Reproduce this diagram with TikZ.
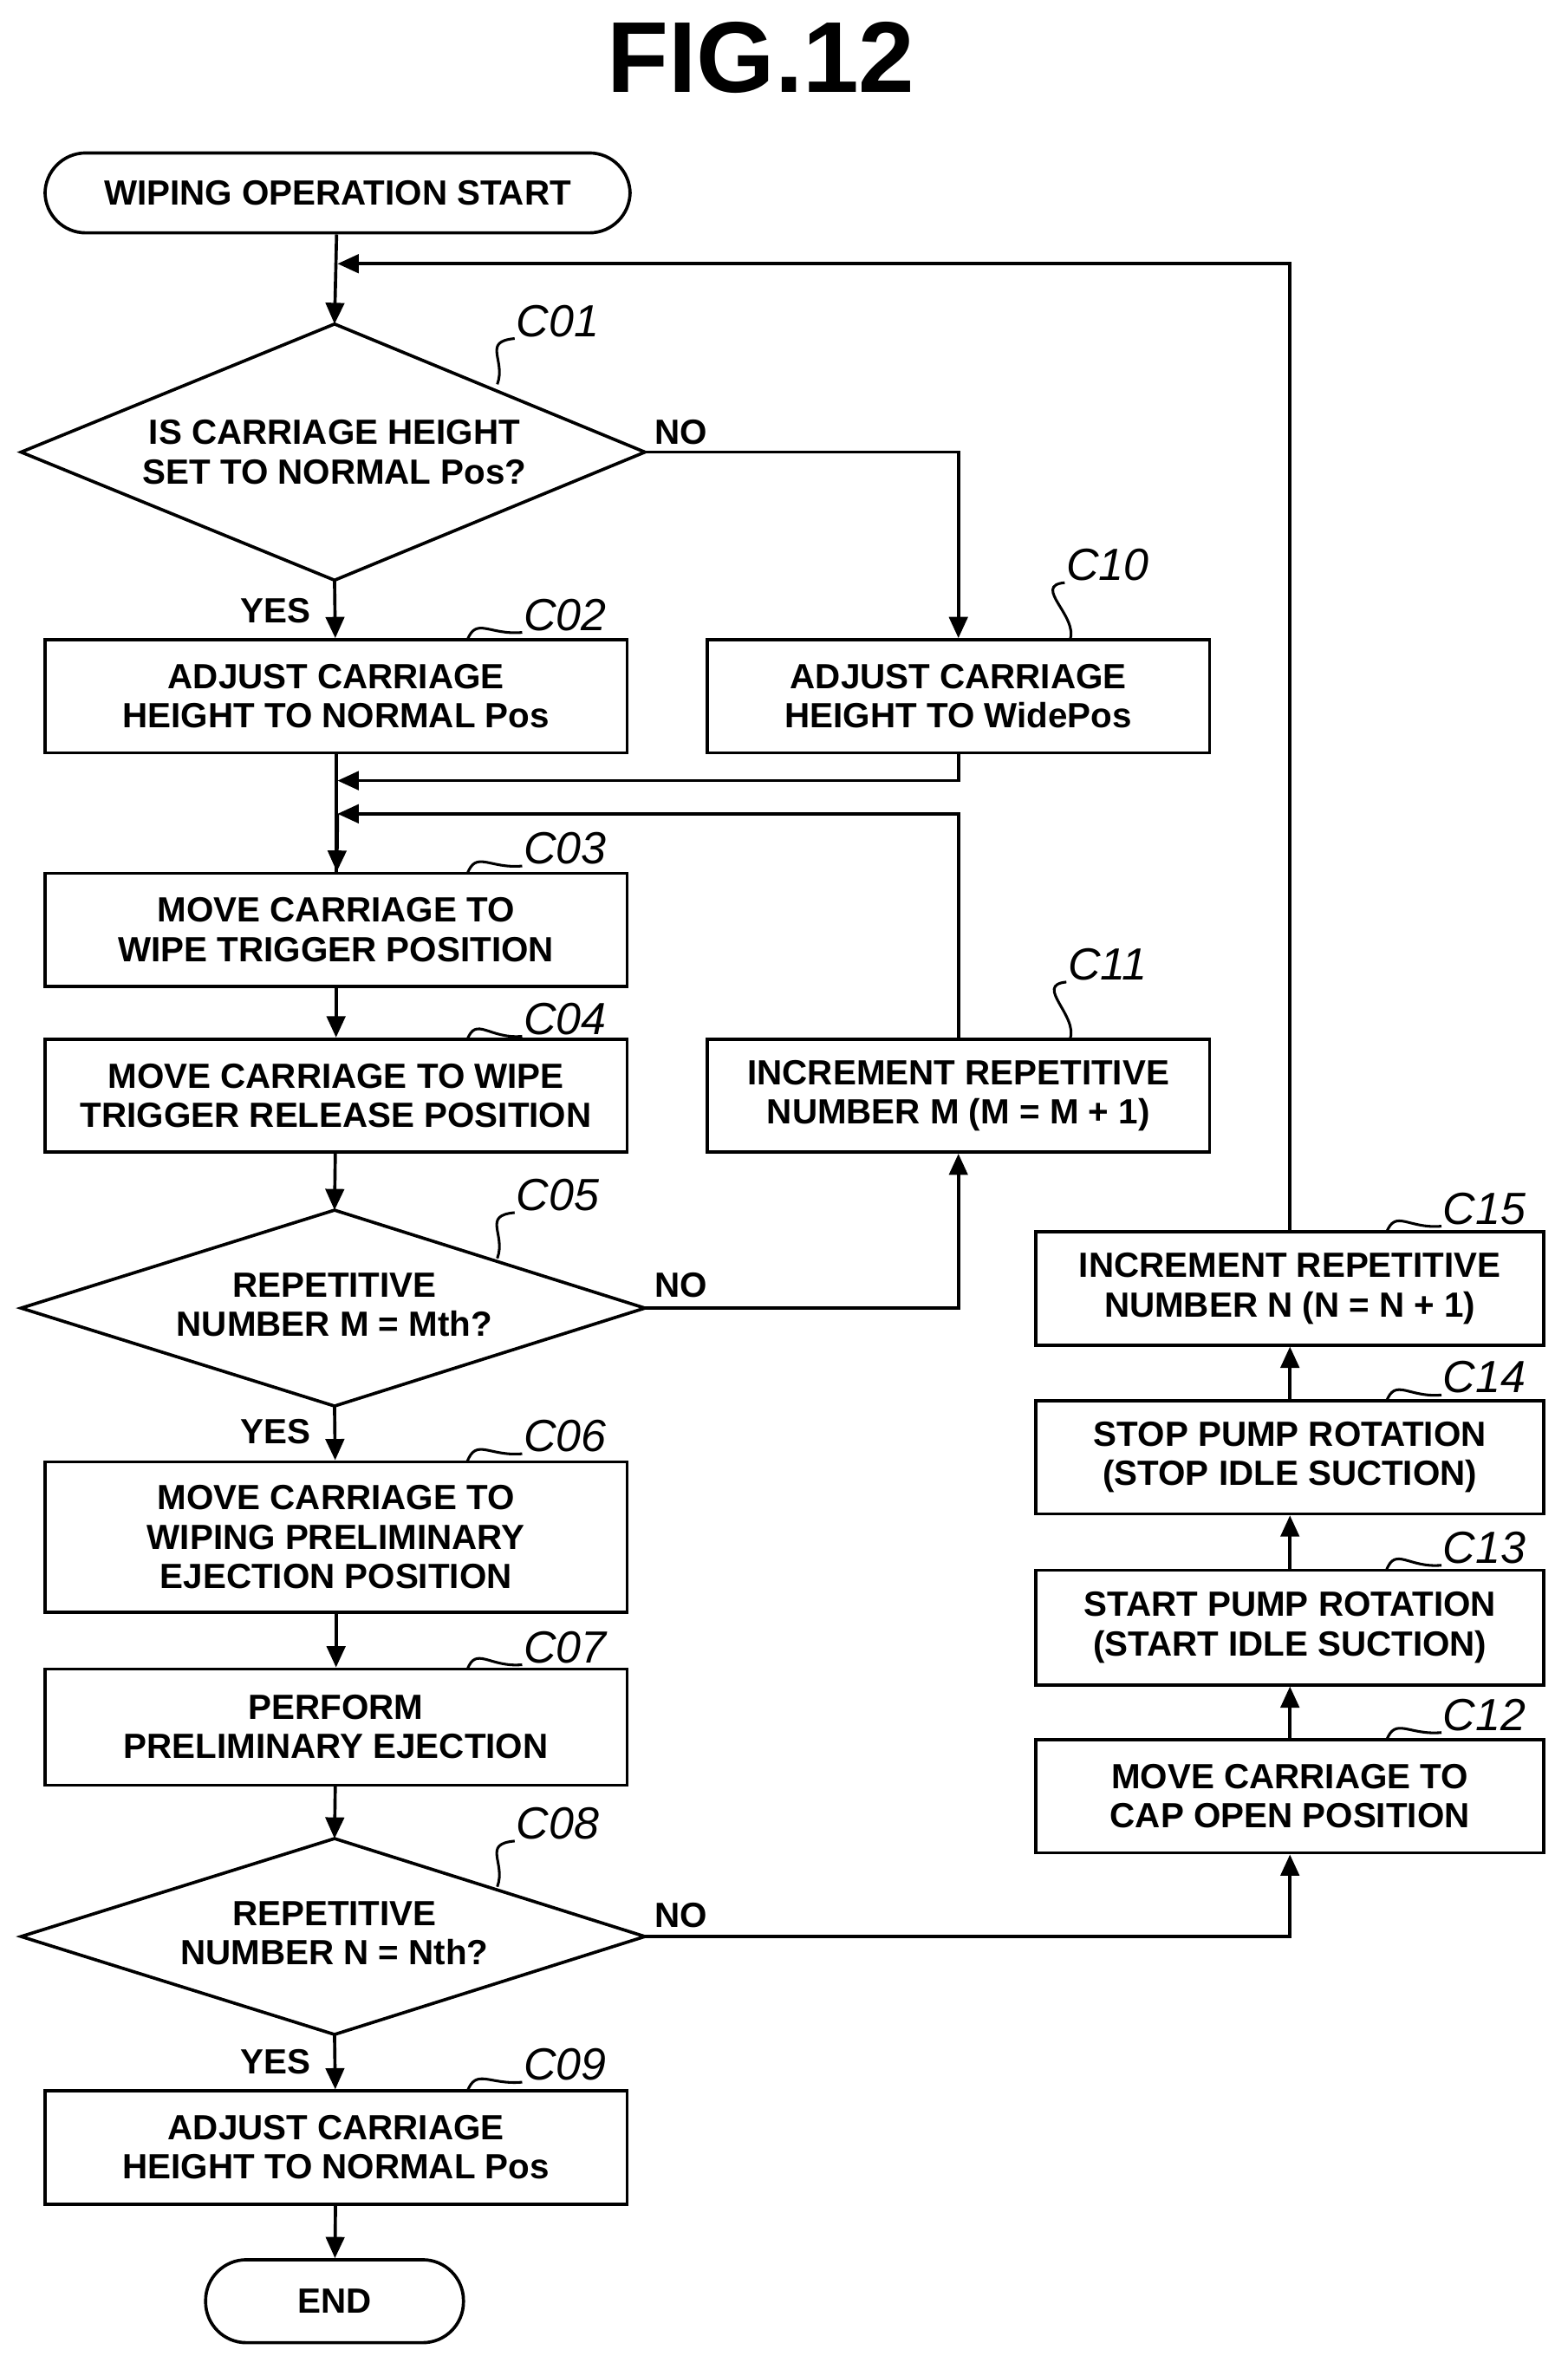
\documentclass[tikz,border=0pt]{standalone}
\usepackage{fontspec}
\setmainfont{Liberation Sans}
\usetikzlibrary{shapes.geometric,arrows.meta}
\begin{document}
\begin{tikzpicture}[x=0.01cm,y=-0.01cm,
  line width=0.6pt,
  every node/.style={font=\bfseries\fontsize{6.6}{7.4}\selectfont, align=center, inner sep=0pt},
  box/.style={draw, rectangle},
  term/.style={draw, rounded corners=0.27cm},
  lab/.style={font=\itshape\fontsize{8.5}{9}\selectfont},
  arr/.style={-{Triangle[length=4pt,width=3.5pt]}},
  lead/.style={line width=0.5pt}]
\useasboundingbox (0,0) rectangle (1040,1572);
\node[font=\bfseries\fontsize{19}{20}\selectfont] (title) at (505,38) {FIG.12};
% main column
\node[term, minimum width=3.88cm, minimum height=0.53cm] (start) at (224,128) {WIPING OPERATION START};
\draw (14,300) -- (222,215) -- (428,300) -- (222,385) -- cycle;
\node (c01) at (222,300) {IS CARRIAGE HEIGHT\\SET TO NORMAL Pos?};
\coordinate (c01t) at (222,215); \coordinate (c01b) at (222,385); \coordinate (c01r) at (428,300);
\node[box, minimum width=3.86cm, minimum height=0.75cm] (c02) at (223,462) {ADJUST CARRIAGE\\HEIGHT TO NORMAL Pos};
\node[box, minimum width=3.33cm, minimum height=0.75cm] (c10) at (636,462) {ADJUST CARRIAGE\\HEIGHT TO WidePos};
\node[box, minimum width=3.86cm, minimum height=0.75cm] (c03) at (223,617) {MOVE CARRIAGE TO\\WIPE TRIGGER POSITION};
\node[box, minimum width=3.86cm, minimum height=0.75cm] (c04) at (223,727) {MOVE CARRIAGE TO WIPE\\TRIGGER RELEASE POSITION};
\node[box, minimum width=3.33cm, minimum height=0.75cm] (c11) at (636,727) {INCREMENT REPETITIVE\\NUMBER M (M = M + 1)};
\draw (14,868) -- (222,803) -- (428,868) -- (222,933) -- cycle;
\node (c05) at (222,866) {REPETITIVE\\NUMBER M = Mth?};
\coordinate (c05t) at (222,803); \coordinate (c05b) at (222,933); \coordinate (c05r) at (428,868);
\node[box, minimum width=3.86cm, minimum height=1.0cm] (c06) at (223,1020) {MOVE CARRIAGE TO\\WIPING PRELIMINARY\\EJECTION POSITION};
\node[box, minimum width=3.86cm, minimum height=0.77cm] (c07) at (223,1146) {PERFORM\\PRELIMINARY EJECTION};
\draw (14,1285) -- (222,1220) -- (428,1285) -- (222,1350) -- cycle;
\node (c08) at (222,1283) {REPETITIVE\\NUMBER N = Nth?};
\coordinate (c08t) at (222,1220); \coordinate (c08b) at (222,1350); \coordinate (c08r) at (428,1285);
\node[box, minimum width=3.86cm, minimum height=0.75cm] (c09) at (223,1425) {ADJUST CARRIAGE\\HEIGHT TO NORMAL Pos};
\node[term, minimum width=1.71cm, minimum height=0.55cm] (end) at (222,1527) {END};
% right column
\node[box, minimum width=3.37cm, minimum height=0.75cm] (c12) at (856,1192) {MOVE CARRIAGE TO\\CAP OPEN POSITION};
\node[box, minimum width=3.37cm, minimum height=0.76cm] (c13) at (856,1080) {START PUMP ROTATION\\(START IDLE SUCTION)};
\node[box, minimum width=3.37cm, minimum height=0.75cm] (c14) at (856,967) {STOP PUMP ROTATION\\(STOP IDLE SUCTION)};
\node[box, minimum width=3.37cm, minimum height=0.75cm] (c15) at (856,855) {INCREMENT REPETITIVE\\NUMBER N (N = N + 1)};
% connectors
\coordinate (j0) at (224,175); \coordinate (j1) at (224,518); \coordinate (j2) at (224,540);
\draw[arr] (start) -- (c01t);
\draw[arr] (c01b) -- (c02);
\draw (c02) -- (c03);
\draw[arr] (j2) -- (c03);
\draw[arr] (c03) -- (c04);
\draw[arr] (c04) -- (c05t);
\draw[arr] (c05b) -- (c06);
\draw[arr] (c06) -- (c07);
\draw[arr] (c07) -- (c08t);
\draw[arr] (c08b) -- (c09);
\draw[arr] (c09) -- (end);
\draw[arr] (c01r) -| (c10.north);
\draw[arr] (c10.south) |- (j1);
\draw[arr] (c11.north) |- (j2);
\draw[arr] (c05r) -| (c11.south);
\draw[arr] (c08r) -| (c12.south);
\draw[arr] (c12) -- (c13);
\draw[arr] (c13) -- (c14);
\draw[arr] (c14) -- (c15);
\draw[arr] (c15.north) |- (j0);
% YES / NO
\node (y1) at (183,405) {YES}; \node (n1) at (452,287) {NO};
\node (y5) at (183,950) {YES}; \node (n5) at (452,853) {NO};
\node (y8) at (183,1368) {YES}; \node (n8) at (452,1271) {NO};
% step labels with leaders
\foreach \n/\lx/\ly/\tx/\ty in {C01/370/213/330/255, C02/375/408/310/425, C03/375/563/310/580,
  C04/375/676/310/690, C05/370/793/330/835, C06/375/953/310/970, C07/375/1093/310/1108,
  C08/370/1210/330/1252, C09/375/1370/310/1388, C10/735/375/710/425, C11/735/640/710/690,
  C15/985/802/920/818, C14/985/914/920/930, C13/985/1027/920/1042, C12/985/1138/920/1155}{
  \node[lab] (l\n) at (\lx,\ly) {\n};
  \coordinate (t\n) at (\tx,\ty);
  \draw[lead] (l\n.south west) .. controls +(-22,2) and +(6,-16) .. (t\n);
}
\end{tikzpicture}
\end{document}
